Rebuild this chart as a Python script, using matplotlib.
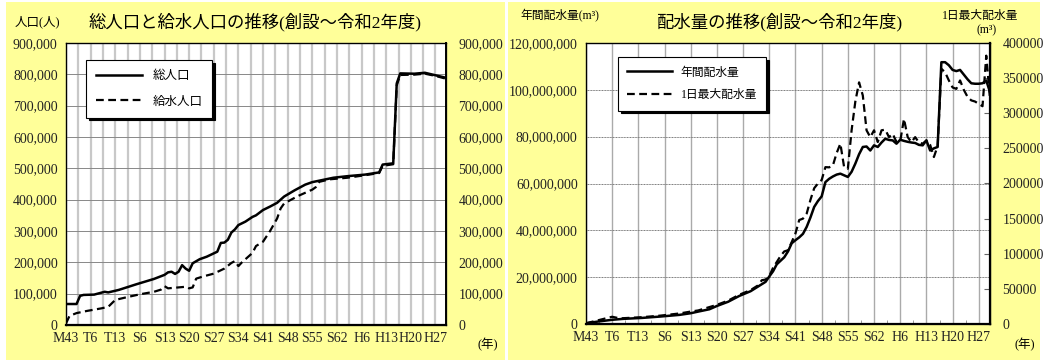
import numpy as np
import matplotlib
matplotlib.use("Agg")
import matplotlib.pyplot as plt
from matplotlib.patches import Rectangle
from matplotlib.ticker import FuncFormatter

# serif for numbers, CJK fallback for Japanese text
plt.rcParams['font.family'] = ['Liberation Serif', 'Noto Sans CJK JP']

# x axis labels (every 7 years from 1910)
tick_years = [1910, 1917, 1924, 1931, 1938, 1945, 1952, 1959, 1966, 1973, 1980, 1987, 1994, 2001, 2008, 2015]
tick_labels = ["M43", "T6", "T13", "S6", "S13", "S20", "S27", "S34", "S41", "S48", "S55", "S62", "H6", "H13", "H20", "H27"]

# left chart: population
pop_total_year = [1910, 1913, 1914, 1915, 1918, 1920, 1921, 1922, 1925, 1930, 1935, 1938, 1939, 1940, 1941,
                  1942, 1943, 1944, 1945, 1946, 1948, 1950, 1953, 1954, 1955, 1956, 1957, 1958, 1959, 1961,
                  1963, 1964, 1966, 1968, 1970, 1972, 1975, 1978, 1980, 1983, 1986, 1990, 1995, 1999, 2000,
                  2003, 2004, 2005, 2009, 2012, 2015, 2018]
pop_total = [67000, 67000, 93000, 96000, 97000, 103000, 106000, 104000, 112000, 130000, 147000, 160000, 168000,
             170000, 163000, 170000, 191000, 180000, 173000, 197000, 210000, 218000, 234000, 262000, 263000,
             272000, 295000, 305000, 319000, 330000, 345000, 350000, 367000, 378000, 390000, 410000, 430000,
             448000, 456000, 463000, 470000, 475000, 480000, 487000, 512000, 516000, 771000, 803000, 802000,
             805000, 797000, 789000]

pop_served_year = [1910, 1911, 1913, 1916, 1920, 1922, 1924, 1927, 1931, 1935, 1937, 1938, 1939, 1942, 1944,
                   1945, 1946, 1947, 1949, 1952, 1955, 1957, 1958, 1959, 1960, 1962, 1963, 1964, 1966, 1968,
                   1970, 1971, 1972, 1974, 1976, 1978, 1980, 1981, 1982, 1985, 1990, 1995, 1999, 2000, 2003,
                   2004, 2005, 2009, 2012, 2015, 2018]
pop_served = [5000, 29000, 38000, 45000, 53000, 58000, 80000, 88000, 98000, 106000, 113000, 124000, 117000,
              120000, 122000, 117000, 120000, 148000, 155000, 164000, 180000, 198000, 204000, 188000, 200000,
              220000, 230000, 252000, 266000, 300000, 340000, 372000, 388000, 400000, 412000, 422000, 432000,
              440000, 457000, 465000, 470000, 478000, 485000, 508000, 513000, 765000, 798000, 799000, 802000,
              795000, 786000]

# right chart: water distribution
annual_year = [1910, 1913, 1917, 1920, 1925, 1930, 1935, 1938, 1940, 1943, 1945, 1948, 1951, 1954, 1956,
               1958, 1959, 1960, 1961, 1962, 1963, 1964, 1965, 1966, 1967, 1968, 1969, 1970, 1971, 1972,
               1973, 1974, 1975, 1976, 1977, 1978, 1979, 1980, 1981, 1982, 1983, 1984, 1985, 1986, 1987,
               1988, 1989, 1990, 1991, 1992, 1993, 1994, 1995, 1996, 1997, 1998, 1999, 2000, 2001, 2002,
               2003, 2004, 2005, 2006, 2007, 2008, 2009, 2010, 2011, 2012, 2013, 2014, 2015, 2016, 2017, 2018]
annual_m3 = [0.3, 1.0, 1.8, 2.2, 2.6, 3.2, 3.9, 4.6, 5.3, 6.3, 7.7, 9.5, 12.0, 14.0, 16.0,
             18.0, 20.3, 22.5, 25.5, 27.0, 28.5, 31.0, 34.5, 35.8, 37.0, 38.5, 41.5, 45.5, 50.0, 52.5,
             54.5, 60.6, 62.0, 63.0, 63.8, 64.2, 63.5, 62.8, 65.0, 68.5, 72.5, 75.6, 75.8, 74.1, 76.3,
             75.6, 77.5, 79.1, 78.6, 78.4, 77.0, 78.7, 78.2, 77.8, 77.5, 77.3, 76.5, 76.3, 78.4, 74.1,
             75.0, 75.6, 111.8, 111.8, 110.5, 108.5, 108.0, 108.5, 106.5, 104.5, 102.8, 102.6, 102.6, 102.8,
             104.0, 99.0]  # million m3

daymax_year = [1910, 1913, 1917, 1919, 1925, 1930, 1935, 1938, 1940, 1945, 1948, 1951, 1954, 1956, 1957,
               1958, 1959, 1960, 1961, 1962, 1963, 1964, 1965, 1966, 1967, 1968, 1969, 1970, 1971, 1972,
               1973, 1974, 1975, 1976, 1977, 1978, 1979, 1980, 1981, 1982, 1983, 1984, 1985, 1986, 1987,
               1988, 1989, 1990, 1991, 1992, 1993, 1994, 1995, 1996, 1997, 1998, 1999, 2000, 2001, 2002,
               2003, 2004, 2005, 2006, 2007, 2008, 2009, 2010, 2011, 2012, 2013, 2014, 2015, 2016, 2017, 2018]
daymax_m3 = [1000, 5000, 10300, 8000, 9700, 12000, 15000, 17700, 19300, 27300, 33300, 41700, 48300, 55000,
             62300, 63300, 68300, 80000, 88300, 96700, 103300, 105000, 116700, 129000, 148000, 150000,
             157300, 176700, 193300, 200000, 205000, 223300, 223000, 225700, 243300, 256700, 223300, 221000,
             275700, 316700, 344000, 325300, 275700, 266000, 275700, 259000, 275700, 276700, 266000, 270700,
             259000, 260000, 292000, 266000, 259000, 266000, 258300, 256700, 261300, 255000, 237700, 253300,
             363300, 358300, 346700, 336700, 334700, 346700, 333300, 323300, 318300, 316700, 313300, 310000,
             382000, 320700]

W, H = 1043, 361
fig = plt.figure(figsize=(W / 100, H / 100), dpi=100)
fig.patch.set_facecolor("white")

yellow = "#FFFF99"
fig.patches.append(Rectangle((6 / W, 1 - 360 / H), 499 / W, 358 / H, transform=fig.transFigure,
                             facecolor=yellow, edgecolor="none", zorder=-5))
fig.patches.append(Rectangle((508 / W, 1 - 360 / H), 532 / W, 358 / H, transform=fig.transFigure,
                             facecolor=yellow, edgecolor="none", zorder=-5))

tcol = "#222222"
fs = 10


def px_axes(x0, y0, x1, y1):
    return fig.add_axes([x0 / W, 1 - y1 / H, (x1 - x0) / W, (y1 - y0) / H])


comma = FuncFormatter(lambda v, p: "{:,.0f}".format(v))
plain = FuncFormatter(lambda v, p: "{:.0f}".format(v))

# ---------------- left chart ----------------
ax = px_axes(66, 43, 446, 325)
ax.set_facecolor("white")
ax.plot(pop_total_year, pop_total, color="black", lw=1.8, label="総人口", zorder=3)
ax.plot(pop_served_year, pop_served, color="black", lw=1.6, ls=(0, (3.5, 2)), label="給水人口", zorder=3)
ax.set_xlim(1910, 2018)
ax.set_ylim(0, 900000)
ax.set_yticks(np.arange(0, 900001, 100000))
ax.yaxis.set_major_formatter(comma)
ax.set_xticks(tick_years)
ax.set_xticklabels(tick_labels)
ax.set_xticks(np.arange(1913.5, 2018, 7), minor=True)
ax.grid(axis="y", color="#888888", lw=0.7, zorder=1)
ax.grid(axis="x", which="both", color="#c8c8c8", lw=1.6, zorder=1)
ax.tick_params(axis="x", which="minor", length=0)
ax.tick_params(axis="both", length=0, labelsize=fs, colors=tcol, pad=6)
ax.tick_params(axis="x", pad=5)
for s in ax.spines.values():
    s.set_color("#444444")
    s.set_linewidth(1.0)
ax.spines["bottom"].set_color("black")
ax.spines["bottom"].set_linewidth(1.6)

axr = ax.twinx()
axr.set_ylim(0, 900000)
axr.set_yticks(np.arange(0, 900001, 100000))
axr.yaxis.set_major_formatter(comma)
axr.tick_params(axis="y", length=0, labelsize=fs, colors=tcol, pad=9)
axr.spines["right"].set_color("black")
axr.spines["right"].set_linewidth(1.4)

leg = axr.legend(*ax.get_legend_handles_labels(), loc="upper left", bbox_to_anchor=(0.053, 0.94),
                 borderaxespad=0, fancybox=False, framealpha=1, edgecolor="black",
                 shadow={"color": "black", "alpha": 1}, fontsize=9, handlelength=3.7,
                 handletextpad=0.8, labelspacing=1.1, borderpad=0.8)
leg.get_frame().set_linewidth(0.8)

fig.text(15 / W, 1 - 22 / H, "人口(人)", fontsize=9, va="center", ha="left")
fig.text(255 / W, 1 - 22 / H, "総人口と給水人口の推移(創設～令和2年度)", fontsize=12.5, va="center", ha="center")
fig.text(488 / W, 1 - 345 / H, "(年)", fontsize=9, va="center", ha="center")

# ---------------- right chart ----------------
bx = px_axes(586, 43, 990, 324)
bx.set_facecolor("white")
bx.plot(annual_year, np.array(annual_m3) * 1e6, color="black", lw=1.8, label="年間配水量", zorder=3)
bx.set_xlim(1910, 2018)
bx.set_ylim(0, 120000000)
bx.set_yticks(np.arange(0, 120000001, 20000000))
bx.yaxis.set_major_formatter(comma)
bx.set_xticks(tick_years)
bx.set_xticklabels(tick_labels)
bx.set_xticks(np.arange(1913.5, 2018, 7), minor=True)
bx.grid(axis="y", color="#777777", lw=0.7, ls=(0, (1, 0.6)), zorder=1)
bx.grid(axis="x", which="major", color="#aaaaaa", lw=1.0, zorder=1)
bx.tick_params(axis="x", which="minor", direction="in", length=3, color="#888888")
bx.tick_params(axis="both", which="major", length=0, labelsize=fs, colors=tcol, pad=6)
bx.tick_params(axis="x", pad=5)
for s in bx.spines.values():
    s.set_color("#444444")
    s.set_linewidth(1.0)
bx.spines["bottom"].set_color("black")
bx.spines["bottom"].set_linewidth(1.6)

bxr = bx.twinx()
bxr.plot(daymax_year, daymax_m3, color="black", lw=1.6, ls=(0, (3.5, 2)), label="1日最大配水量", zorder=3)
bxr.set_ylim(0, 400000)
bxr.set_yticks(np.arange(0, 400001, 50000))
bxr.yaxis.set_major_formatter(plain)
bxr.tick_params(axis="y", direction="in", length=4, labelsize=fs, colors=tcol, pad=9)
bxr.tick_params(axis="y", color="#666666")
bxr.spines["right"].set_color("black")
bxr.spines["right"].set_linewidth(1.6)

h1, l1 = bx.get_legend_handles_labels()
h2, l2 = bxr.get_legend_handles_labels()
leg2 = bxr.legend(h1 + h2, l1 + l2, loc="upper left", bbox_to_anchor=(0.079, 0.95),
                  borderaxespad=0, fancybox=False, framealpha=1, edgecolor="black",
                  shadow={"color": "black", "alpha": 1}, fontsize=8.5, handlelength=3.8,
                  handletextpad=0.7, labelspacing=0.9, borderpad=0.8)
leg2.get_frame().set_linewidth(0.8)

fig.text(520 / W, 1 - 16 / H, "年間配水量(m³)", fontsize=8.5, va="center", ha="left")
fig.text(779 / W, 1 - 22 / H, "配水量の推移(創設～令和2年度)", fontsize=12.5, va="center", ha="center")
fig.text(980 / W, 1 - 16 / H, "1日最大配水量", fontsize=8.5, va="center", ha="center")
fig.text(987 / W, 1 - 30 / H, "(m³)", fontsize=8.5, va="center", ha="center")
fig.text(1025 / W, 1 - 345 / H, "(年)", fontsize=9, va="center", ha="center")

fig.savefig("out.png", dpi=100)
